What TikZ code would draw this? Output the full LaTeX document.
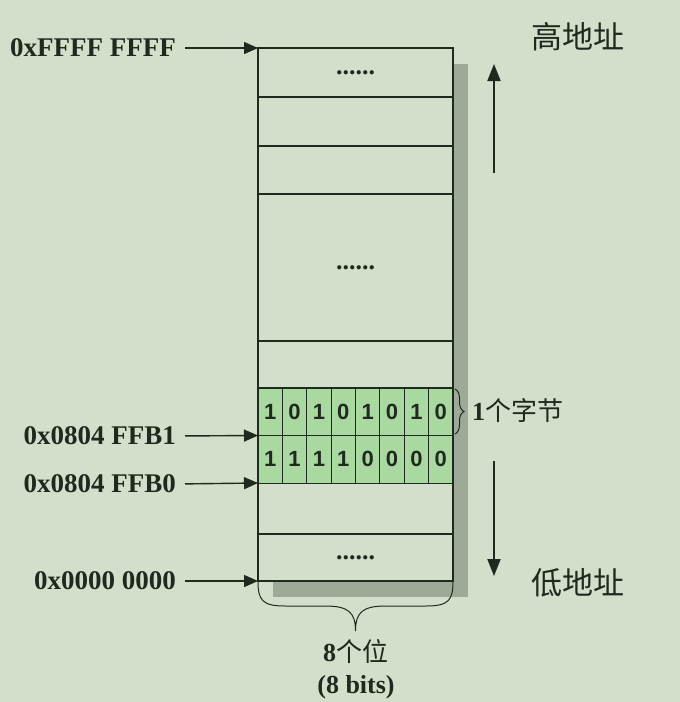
\documentclass[tikz,border=0pt]{standalone}
\usepackage{fontspec}
\setmainfont{Liberation Serif}
\newfontfamily\cjk{Noto Sans CJK SC}
\newfontfamily\digitfont{Liberation Sans}
\usetikzlibrary{arrows.meta,decorations.pathreplacing}
\definecolor{bg}{HTML}{D3DECB}
\definecolor{shadowc}{HTML}{9DAA98}
\definecolor{cellg}{HTML}{A9D9A0}
\definecolor{ink}{HTML}{1F2A1E}
\begin{document}
\begin{tikzpicture}[x=1pt,y=-1pt,
  memrow/.style={draw=ink,line width=1.2pt,minimum width=195pt,inner sep=0pt,outer sep=0pt,
     font=\fontsize{26}{30}\selectfont\bfseries,text=ink},
  cell/.style={draw=ink,line width=1pt,fill=cellg,minimum width=24.375pt,minimum height=47.5pt,
     inner sep=0pt,outer sep=0pt,font=\digitfont\fontsize{22}{26}\selectfont\bfseries,text=ink},
  addr/.style={anchor=east,inner sep=0pt,font=\fontsize{27}{32}\selectfont\bfseries,text=ink},
  arr/.style={draw=ink,line width=1.4pt,-{Triangle[length=14pt,width=12pt]},shorten <=9pt},
  bigarr/.style={draw=ink,line width=2pt,-{Triangle[length=17pt,width=13pt]}},
  cjklab/.style={inner sep=0pt,font=\cjk\fontsize{31}{34}\selectfont,text=ink},
  note/.style={inner sep=0pt,text=ink,font=\fontsize{26}{30}\selectfont\bfseries}]
\fill[bg] (0,0) rectangle (680,702);
\useasboundingbox (0,0) rectangle (680,702);
% shadow
\fill[shadowc] (273,64) rectangle (468,597);
\fill[bg] (258,48) rectangle (453,581);
% memory rows
\node[memrow,minimum height=49pt] (r1) at (355.5,72.5) {......};
\node[memrow,minimum height=49pt] (r2) at (355.5,121.5) {};
\node[memrow,minimum height=48pt] (r3) at (355.5,170) {};
\node[memrow,minimum height=147pt] (r4) at (355.5,267.5) {......};
\node[memrow,minimum height=47pt] (r5) at (355.5,364.5) {};
\node[memrow,minimum height=51pt] (r8) at (355.5,508.5) {};
\node[memrow,minimum height=47pt] (r9) at (355.5,557.5) {......};
% byte cells
\foreach \b [count=\i from 0] in {1,0,1,0,1,0,1,0}
  \node[cell] (a\i) at ({258+24.375*(\i+0.5)},411.75) {\b};
\foreach \b [count=\i from 0] in {1,1,1,1,0,0,0,0}
  \node[cell] (b\i) at ({258+24.375*(\i+0.5)},459.25) {\b};
\draw[ink,line width=1.2pt] (258,48) rectangle (453,581);
% address labels
\node[addr] (l1) at (176,48) {0xFFFF FFFF};
\node[addr] (l2) at (176,436) {0x0804 FFB1};
\node[addr] (l3) at (176,484) {0x0804 FFB0};
\node[addr] (l4) at (176,581) {0x0000 0000};
\draw[arr] (l1.east) -- (r1.north west);
\draw[arr] (l2.east) -- (b0.north west);
\draw[arr] (l3.east) -- (b0.south west);
\draw[arr] (l4.east) -- (r9.south west);
% direction arrows
\coordinate (upS) at (494,173);
\coordinate (upE) at (494,64);
\coordinate (dnS) at (494,461);
\coordinate (dnE) at (494,576);
\draw[bigarr] (upS) -- (upE);
\draw[bigarr] (dnS) -- (dnE);
\node[cjklab] (hi) at (578,37) {高地址};
\node[cjklab] (lo) at (578,583) {低地址};
% byte brace
\coordinate (bt) at (455,389);
\coordinate (bb) at (455,434);
\draw[ink,line width=1pt,decorate,decoration={brace,amplitude=9pt}] (bt) -- (bb);
\node[note,anchor=west] (byte) at (472,411) {1{\cjk\fontsize{26}{30}\selectfont\mdseries 个字节}};
% bits brace
\coordinate (bl) at (258,581);
\coordinate (br) at (453,581);
\coordinate (btip) at (355.5,631);
\draw[ink,line width=1pt] (bl) .. controls (258,600) and (262,606) .. (285,606)
   -- (325,606) .. controls (348,606) and (355.5,612) .. (btip)
   .. controls (355.5,612) and (363,606) .. (386,606)
   -- (426,606) .. controls (449,606) and (453,600) .. (br);
\node[note] (bits) at (355.5,652) {8{\cjk\fontsize{26}{30}\selectfont\mdseries 个位}};
\node[note] (bits2) at (356,687) {(8 bits)};
\end{tikzpicture}
\end{document}
